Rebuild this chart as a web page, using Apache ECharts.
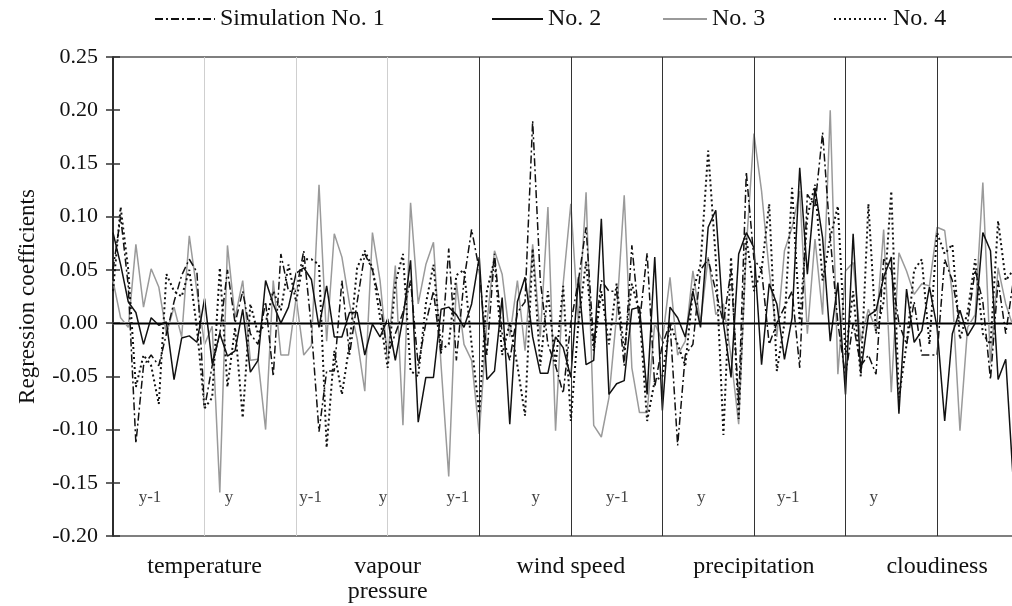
<!DOCTYPE html>
<html><head><meta charset="utf-8">
<script src="https://cdn.jsdelivr.net/npm/echarts@6/dist/echarts.min.js"></script>
<style>html,body{margin:0;padding:0;background:#fff}#c{width:1012px;height:606px}</style>
</head><body><div id="c"></div>
<script>
const seriesNames = ['Simulation No. 1', 'No. 2', 'No. 3', 'No. 4'];
const variables = ['temperature', 'vapour\npressure', 'wind speed', 'precipitation', 'cloudiness'];
const periodLabels = ['y-1', 'y', 'y-1', 'y', 'y-1', 'y', 'y-1', 'y', 'y-1', 'y'];
const yTicks = [-0.20, -0.15, -0.10, -0.05, 0.00, 0.05, 0.10, 0.15, 0.20, 0.25];

const sim1 = [0.05,0.1,0.035,-0.113,-0.04,-0.03,-0.04,-0.01,0.02,0.045,0.06,0.048,-0.08,
-0.04,-0.01,0.05,0.0,0.03,-0.01,-0.02,0.02,-0.05,0.065,0.03,0.03,0.068,
-0.005,-0.102,-0.045,-0.045,0.04,-0.03,0.02,0.065,0.05,0.02,-0.03,-0.01,
0.01,0.04,-0.04,0.0,0.03,-0.03,0.07,-0.035,0.04,0.088,0.05,-0.03,
0.065,-0.01,-0.035,0.01,0.02,0.19,0.04,-0.02,-0.04,-0.066,0.0,0.04,
0.09,-0.02,0.04,0.03,0.03,-0.04,0.073,0.0,0.066,-0.06,-0.02,
0.0,-0.115,-0.03,-0.02,0.05,0.06,0.03,0.0,0.05,-0.075,0.142,0.06,
0.05,-0.02,0.0,0.015,0.03,-0.042,0.121,0.11,0.179,0.08,0.0,-0.05,
0.0,-0.04,-0.03,-0.048,0.06,0.05,0.0,-0.02,0.02,-0.03,-0.03,-0.03,
0.06,0.04,0.0,0.0,0.05,0.02,-0.053,0.04,-0.01,0.04,0.02];

const sim2 = [0.085,0.055,0.02,0.01,-0.02,0.005,-0.002,0.001,-0.053,-0.014,-0.012,-0.018,0.023,
-0.038,-0.01,-0.031,-0.026,0.013,-0.046,-0.035,0.04,0.018,0.0,0.015,0.047,0.052,
0.041,-0.004,0.035,-0.013,-0.013,0.01,0.01,-0.03,-0.001,-0.013,0.004,-0.035,
0.005,0.059,-0.093,-0.051,-0.051,0.013,0.015,0.008,-0.004,0.018,0.062,-0.053,
-0.045,0.024,-0.095,0.02,0.043,-0.013,-0.047,-0.047,-0.013,-0.023,-0.051,0.043,
-0.039,-0.035,0.098,-0.067,-0.057,-0.054,0.013,0.015,-0.067,0.062,-0.082,
0.015,0.005,-0.013,0.03,-0.004,0.09,0.106,0.0,-0.051,0.065,0.085,0.071,
-0.039,0.037,0.018,-0.034,0.005,0.146,0.046,0.127,0.08,-0.017,0.038,-0.067,
0.084,-0.046,0.007,0.012,0.043,0.062,-0.085,0.032,-0.018,-0.007,0.034,-0.004,
-0.092,-0.01,0.012,-0.012,0.0,0.085,0.068,-0.053,-0.034,-0.15,-0.1];

const sim3 = [0.04,0.005,-0.004,0.074,0.015,0.051,0.034,-0.01,0.015,-0.013,0.082,0.03,-0.02,
-0.003,-0.159,0.073,0.005,0.04,-0.035,-0.034,-0.1,0.04,-0.03,-0.03,0.024,-0.03,
-0.021,0.13,-0.017,0.084,0.062,0.018,-0.015,-0.064,0.085,0.04,-0.035,0.054,
-0.096,0.113,0.018,0.055,0.076,-0.04,-0.144,0.038,-0.02,-0.035,-0.104,0.0,
0.068,0.046,-0.013,0.04,-0.026,0.074,-0.013,0.109,-0.101,0.037,0.112,0.0,
0.123,-0.096,-0.107,-0.07,0.007,0.12,-0.042,-0.084,-0.084,0.0,-0.017,
0.043,-0.03,-0.017,0.049,0.0,0.062,0.008,0.018,-0.032,-0.095,0.071,0.178,
0.124,0.049,-0.013,0.068,0.09,0.124,-0.01,0.079,0.008,0.2,-0.048,0.049,
0.057,-0.017,0.013,-0.007,0.088,-0.065,0.066,0.049,0.027,0.037,0.035,0.09,
0.087,0.027,-0.101,-0.004,0.008,0.132,-0.038,0.052,0.018,-0.004,-0.02];

const sim4 = [0.03,0.109,0.05,-0.06,-0.03,-0.04,-0.076,0.046,0.03,0.025,0.05,-0.005,-0.08,
-0.07,0.052,-0.06,-0.004,-0.089,0.018,-0.01,0.0,0.03,0.012,0.055,0.02,0.06,
0.06,0.055,-0.117,-0.026,-0.067,-0.02,0.052,0.068,0.052,0.005,-0.042,0.037,
0.065,-0.045,-0.05,0.018,0.055,-0.025,-0.02,0.045,0.05,-0.02,-0.085,0.03,
0.06,-0.03,0.0,-0.04,-0.087,0.07,-0.04,0.03,-0.04,0.035,-0.092,0.0,
0.058,-0.026,0.03,-0.02,0.037,-0.026,0.037,0.01,-0.092,-0.054,-0.05,
0.0,-0.02,-0.04,0.03,0.055,0.162,0.06,-0.105,0.062,-0.09,0.08,0.03,
0.05,0.112,-0.045,0.0,0.127,0.0,0.1,0.13,0.04,0.08,0.11,-0.03,
0.03,-0.05,0.112,-0.01,0.02,0.124,-0.07,-0.02,0.05,0.06,-0.02,0.085,
0.065,0.074,-0.015,0.01,0.06,-0.01,-0.02,0.096,0.04,0.05,0.03];

const FONT = '"Liberation Serif", "Times New Roman", serif';
const pointsPerPeriod = 12;
const nPts = sim1.length;
const toXY = arr => arr.map((v, i) => [i, v]);

// caption anchors (x-index units) for the y-1 / y captions
const periodLabelX = [4.85, 15.2, 25.9, 35.4, 45.2, 55.4, 66.1, 77.1, 88.5, 99.7];
const periodLabelY = -0.1635;
// legend entry placement: left edge and line-icon length
const legendLeft = [154, 491, 662, 833];
const legendIconW = [60, 51, 44, 54];

const sepLines = [];
for (let k = 1; k < 10; k++) {
  sepLines.push({ xAxis: k * pointsPerPeriod,
    lineStyle: { color: k <= 3 ? '#cfcfcf' : '#333', width: 1, type: 'solid' } });
}

const legends = seriesNames.map((n, i) => ({
  data: [n], top: 7, left: legendLeft[i], padding: 0, itemWidth: legendIconW[i], itemHeight: 14,
  itemStyle: { opacity: 0 }, selectedMode: false,
  textStyle: { fontFamily: FONT, fontSize: 24, color: '#111', padding: [0, 0, 0, 0] }
}));

const chart = echarts.init(document.getElementById('c'), null, { renderer: 'canvas' });
chart.setOption({
  animation: false,
  backgroundColor: '#fff',
  grid: { left: 113, width: 908, top: 57, bottom: 70, containLabel: false, outerBoundsMode: 'none',
    show: true, borderColor: '#555', borderWidth: 1.5, backgroundColor: 'transparent' },
  legend: legends,
  xAxis: {
    type: 'value', min: 0, max: nPts - 1, interval: pointsPerPeriod,
    axisLine: { show: true, lineStyle: { color: '#555', width: 2.5 } },
    axisTick: { show: false }, splitLine: { show: false },
    axisLabel: {
      margin: 18, fontFamily: FONT, fontSize: 24, color: '#111', lineHeight: 25,
      formatter: v => (v % 24 === 12 ? variables[(v - 12) / 24] : '')
    }
  },
  yAxis: [{
    type: 'value', position: 'left', min: yTicks[0], max: yTicks[yTicks.length - 1], interval: 0.05,
    name: 'Regression coefficients', nameLocation: 'middle', nameRotate: 90, nameGap: 74,
    nameTextStyle: { fontFamily: FONT, fontSize: 23, color: '#111' },
    axisLine: { show: true, lineStyle: { color: '#111', width: 1.5 } },
    axisTick: { show: true, length: 7, lineStyle: { color: '#333', width: 1.5 } },
    splitLine: { show: false },
    axisLabel: { margin: 15, fontFamily: FONT, fontSize: 22, color: '#111', formatter: v => v.toFixed(2) }
  }, {
    type: 'value', position: 'left', min: yTicks[0], max: yTicks[yTicks.length - 1], interval: 0.05,
    axisLine: { show: false }, axisLabel: { show: false }, splitLine: { show: false },
    axisTick: { show: true, inside: true, length: 7, lineStyle: { color: '#333', width: 1.5 } }
  }],
  series: [
    { name: seriesNames[2], type: 'line', data: toXY(sim3), symbol: 'none', z: 2,
      lineStyle: { color: '#9a9a9a', width: 1.5 }, itemStyle: { color: '#9a9a9a' },
      markLine: { silent: true, symbol: 'none', label: { show: false }, data: sepLines } },
    { name: seriesNames[0], type: 'line', data: toXY(sim1), symbol: 'none', z: 3,
      lineStyle: { color: '#111', width: 1.5, type: [8, 3, 2, 3] }, itemStyle: { color: '#111' },
      markLine: { silent: true, symbol: 'none', label: { show: false },
        data: [{ yAxis: 0, lineStyle: { color: '#000', width: 1.2, type: 'solid' } }] } },
    { name: seriesNames[1], type: 'line', data: toXY(sim2), symbol: 'none', z: 4,
      lineStyle: { color: '#111', width: 1.5 }, itemStyle: { color: '#111' } },
    { name: seriesNames[3], type: 'line', data: toXY(sim4), symbol: 'none', z: 5,
      lineStyle: { color: '#111', width: 2, type: [2, 3] }, itemStyle: { color: '#111' } },
    { type: 'scatter', symbolSize: 0, silent: true, z: 6,
      data: periodLabels.map((t, i) => ({ value: [periodLabelX[i], periodLabelY], name: t })),
      label: { show: true, position: 'inside', formatter: p => p.name, fontFamily: FONT, fontSize: 17, color: '#111' } }
  ]
});
</script></body></html>
